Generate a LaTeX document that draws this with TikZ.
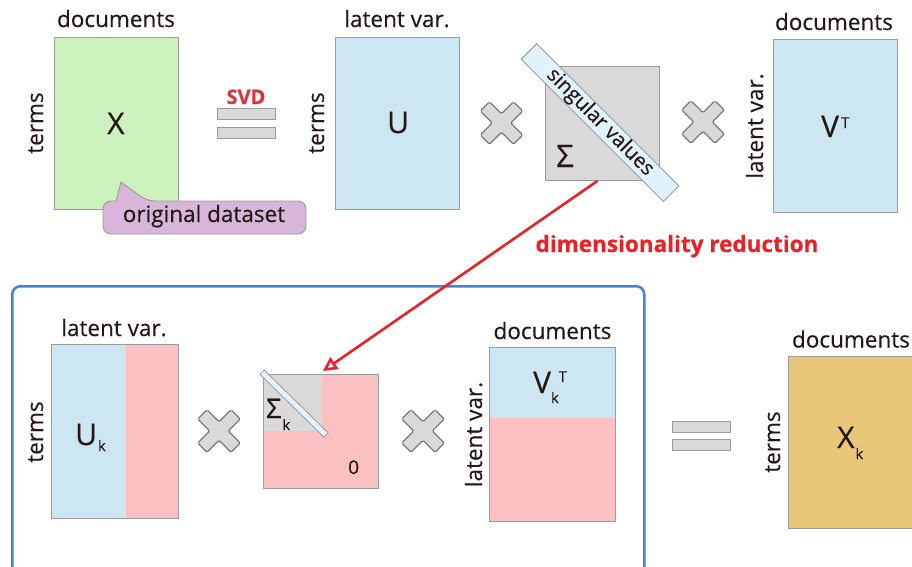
\documentclass[tikz,border=0pt]{standalone}
\usepackage{fontspec}
\setmainfont{Open Sans}[FakeBold=0.35]
\usetikzlibrary{arrows.meta,calc}
\definecolor{ink}{HTML}{231815}
\definecolor{termfill}{HTML}{CDF1BC}
\definecolor{factfill}{HTML}{CCE7F2}
\definecolor{sigfill}{HTML}{D9D9D9}
\definecolor{dropfill}{HTML}{FBC0C1}
\definecolor{approxfill}{HTML}{E8C878}
\definecolor{notefill}{HTML}{D8B6D9}
\definecolor{bandfill}{HTML}{E2F2FA}
\definecolor{edge}{HTML}{9C9C9C}
\definecolor{crossedge}{HTML}{7A7A7A}
\definecolor{svdred}{HTML}{D8343A}
\definecolor{redline}{HTML}{EC2127}
\definecolor{frameblue}{HTML}{3E86D2}
% lowered subscript k, raised superscript T
\newcommand\lowk[1]{\raisebox{-#1}{\fontsize{14.5}{15}\selectfont\mdseries k}}
\newcommand\upT[1]{\raisebox{#1}{\fontsize{15}{15}\selectfont\mdseries T}}
\tikzset{
  pics/timesmark/.style={code={
    \draw[crossedge, fill=sigfill, line width=1.2pt, rounded corners=1.5pt, rotate=45]
      (6.5,23.5) -- (6.5,6.5) -- (23.5,6.5) -- (23.5,-6.5) -- (6.5,-6.5) -- (6.5,-23.5)
      -- (-6.5,-23.5) -- (-6.5,-6.5) -- (-23.5,-6.5) -- (-23.5,6.5) -- (-6.5,6.5)
      -- (-6.5,23.5) -- cycle;}},
}
\begin{document}
\begin{tikzpicture}[x=1pt,y=-1pt,
  mat/.style={draw=edge, line width=0.9pt, inner sep=0pt, anchor=north west},
  lbl/.style={text=ink, inner sep=0pt, font=\fontsize{22.5}{26}\selectfont},
  sidelbl/.style={lbl, rotate=90, anchor=base},
  toplbl/.style={lbl, anchor=base},
  sym/.style={text=ink, inner sep=0pt, anchor=base west, font=\fontsize{30}{34}\selectfont},
  eqbar/.style={draw=edge, fill=sigfill, line width=0.9pt, minimum width=58pt, minimum height=11pt, inner sep=0pt},
  band/.style={draw=edge, fill=bandfill, line width=0.9pt, inner sep=0pt, rotate=-45},
]
\useasboundingbox (0,0) rectangle (912,566);
\fill[white] (0,0) rectangle (912,566);

% ---- full decomposition: X = U x Sigma x V^T
\node[mat, fill=termfill, minimum width=124pt, minimum height=172pt] (X) at (54,37) {};
\node[toplbl] (Xdoc) at (116,27) {documents};
\node[sidelbl] (Xterm) at (43,123) {terms};
\node[sym] (Xsym) at (107,134) {X};

% callout
\draw[draw=edge, fill=notefill, line width=0.9pt, rounded corners=8pt]
  (116,201) -- (103,201) -- (103,234) -- (306,234) -- (306,201) -- (147,201)
  [sharp corners] -- (121,182) -- cycle;
\node[lbl, anchor=base] (note) at (204,222) {original dataset};

% SVD equals sign
\node[font=\bfseries\fontsize{20}{22}\selectfont, text=svdred, anchor=base, inner sep=0pt] (svd) at (246,104) {SVD};
\node[eqbar] (eqa) at (246.5,113.5) {};
\node[eqbar] (eqb) at (246.5,132.5) {};

\node[mat, fill=factfill, minimum width=124pt, minimum height=172pt] (U) at (335,37) {};
\node[toplbl] (Ulat) at (397,27) {latent var.};
\node[sidelbl] (Uterm) at (324,123) {terms};
\node[sym] (Usym) at (387,133) {U};

\pic at (501.5,123) {timesmark};

\node[mat, fill=sigfill, minimum width=114pt, minimum height=114pt] (S) at (545,66) {};
\node[sym, font=\fontsize{31}{34}\selectfont] (Ssym) at (556,167) {Σ};
\node[band, minimum width=201pt, minimum height=22pt, text=ink, font=\fontsize{20.5}{21}\selectfont] (sv) at (600,122.5) {singular values};

\pic at (703,122) {timesmark};

\node[mat, fill=factfill, minimum width=124pt, minimum height=173pt] (V) at (773,39) {};
\node[toplbl] (Vdoc) at (834,30) {documents};
\node[sidelbl] (Vlat) at (763,126) {latent var.};
\node[sym] (Vsym) at (821,137) {V\kern2pt\upT{9pt}};

% ---- truncated product
\node[draw=frameblue, line width=2.5pt, rounded corners=8pt, anchor=north west,
  minimum width=632pt, minimum height=330pt] (frame) at (11,285) {};

\node[mat, fill=factfill, minimum width=126.5pt, minimum height=174pt,
  path picture={\fill[dropfill] ([xshift=74.5pt]path picture bounding box.north west)
    rectangle (path picture bounding box.south east);}] (Uk) at (51,344) {};
\node[toplbl] (Uklat) at (114,336) {latent var.};
\node[sidelbl] (Ukterm) at (43,432) {terms};
\node[sym] (Uksym) at (75,445) {U\kern1pt\lowk{6pt}};

\pic at (219,431) {timesmark};

\node[mat, fill=dropfill, minimum width=115pt, minimum height=114pt,
  path picture={\fill[sigfill] (path picture bounding box.north west)
    rectangle ([xshift=59pt,yshift=-57pt]path picture bounding box.north west);}] (Sk) at (263,374) {};
\node[band, line width=0.8pt, minimum width=90pt, minimum height=6pt, rotate=0.5] (svk) at (294,403.5) {};
\node[sym, font=\fontsize{27}{30}\selectfont] (Sksym) at (266,418) {Σ\kern1pt\lowk{12pt}};
\node[text=ink, font=\fontsize{19}{20}\selectfont, anchor=base west, inner sep=0pt] (zero) at (348,474) {0};

\pic at (423,431) {timesmark};

\node[mat, fill=dropfill, minimum width=125.7pt, minimum height=174pt,
  path picture={\fill[factfill] (path picture bounding box.north west)
    rectangle ([yshift=-70.6pt]path picture bounding box.north east);}] (Vk) at (489.3,346.7) {};
\node[toplbl] (Vkdoc) at (552.5,339) {documents};
\node[sidelbl] (Vklat) at (482,434.5) {latent var.};
\node[sym] (Vksym) at (533,393) {V\lowk{10pt}\upT{11pt}};

\node[eqbar] (eqc) at (701.5,427) {};
\node[eqbar] (eqd) at (701.5,445) {};

\node[mat, fill=approxfill, minimum width=124pt, minimum height=172pt] (Xk) at (788.3,356) {};
\node[toplbl] (Xkdoc) at (851,347.5) {documents};
\node[sidelbl] (Xkterm) at (780,442) {terms};
\node[sym] (Xksym) at (837,448) {X\kern1pt\lowk{11pt}};

% dimensionality reduction arrow
\draw[redline, line width=2.6pt, -{Triangle[open, length=14pt, width=14pt]}]
  ($(S.south)+(-5,0)$) -- ($(Sk.north)+(2,-3)$);
\node[font=\bfseries\fontsize{22.5}{26}\selectfont, text=redline, anchor=base, inner sep=0pt] (dr) at (677,252) {dimensionality reduction};
\end{tikzpicture}
\end{document}
